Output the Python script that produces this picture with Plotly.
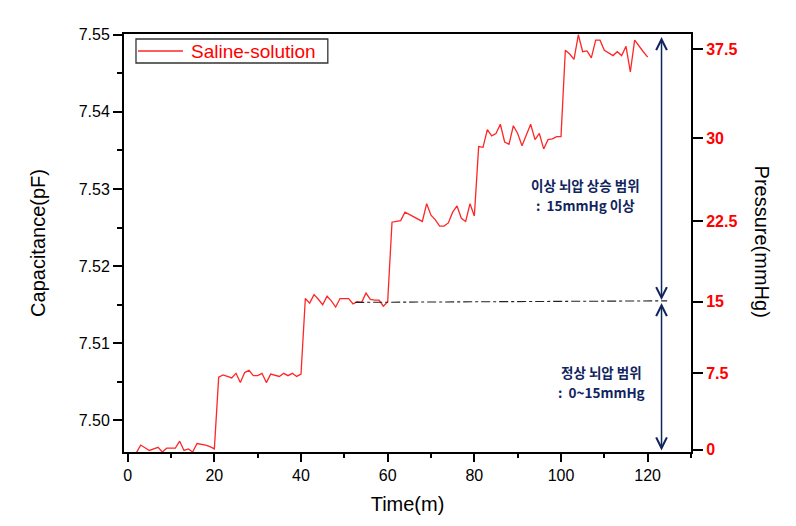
import plotly.graph_objects as go

# ---- data ----
time_min = list(range(1, 121))

cap_0mmHg = [7.4957, 7.4958, 7.4968, 7.4964, 7.4961, 7.4963, 7.4965, 7.4959, 7.4964, 7.4964,
             7.4964, 7.4973, 7.4961, 7.4963, 7.4959, 7.4970, 7.4969, 7.4968, 7.4966, 7.4963]
cap_7_5mmHg = [7.5056, 7.5059, 7.5057, 7.5055, 7.5061, 7.5049, 7.5062, 7.5065, 7.5058, 7.5058,
               7.5061, 7.5049, 7.5060, 7.5058, 7.5057, 7.5061, 7.5058, 7.5061, 7.5057, 7.5060]
cap_15mmHg = [7.5158, 7.5152, 7.5163, 7.5157, 7.5150, 7.5161, 7.5155, 7.5147, 7.5158, 7.5158,
              7.5158, 7.5151, 7.5154, 7.5153, 7.5165, 7.5157, 7.5156, 7.5156, 7.5148, 7.5154]
cap_22_5mmHg = [7.5257, 7.5258, 7.5259, 7.5270, 7.5267, 7.5264, 7.5261, 7.5258, 7.5281, 7.5266,
                7.5260, 7.5252, 7.5252, 7.5256, 7.5270, 7.5278, 7.5262, 7.5258, 7.5281, 7.5265]
cap_30mmHg = [7.5355, 7.5354, 7.5377, 7.5369, 7.5372, 7.5384, 7.5361, 7.5358, 7.5382, 7.5372,
              7.5356, 7.5370, 7.5384, 7.5364, 7.5372, 7.5352, 7.5364, 7.5365, 7.5368, 7.5368]
cap_37_5mmHg = [7.5480, 7.5475, 7.5468, 7.5500, 7.5478, 7.5479, 7.5470, 7.5493, 7.5493, 7.5480,
                7.5476, 7.5473, 7.5478, 7.5473, 7.5485, 7.5452, 7.5493, 7.5485, 7.5478, 7.5471]

capacitance = cap_0mmHg + cap_7_5mmHg + cap_15mmHg + cap_22_5mmHg + cap_30mmHg + cap_37_5mmHg

pressure_labels = ["0", "7.5", "15", "22.5", "30", "37.5"]
pressure_tick_cap = [7.4962, 7.5061, 7.5154, 7.5258, 7.5366, 7.5481]

series_name = "Saline-solution"
threshold_cap = 7.5154   # 15 mmHg level
range_top_cap = 7.5497
range_bottom_cap = 7.4961
arrow_time = 123.2

y_range = [7.4959, 7.5501]
x_range = [-0.85, 130]

NAVY = "#10245e"
RED = "#ff2626"
FONT = "Liberation Sans, Arial, sans-serif"
KFONT = "Noto Sans CJK KR, sans-serif"

OFF = 8  # page body margin
W, H = 788, 518
ML, MT = 116, 26
PW, PH = 567.5, 418
MR = W - ML - PW
MB = H - MT - PH


def px_to_paper(px, py):
    """window pixel -> paper coords"""
    return (px - OFF - ML) / PW, (MT + PH - (py - OFF)) / PH


def py_to_cap(py):
    return y_range[1] - (py - (MT + OFF)) / PH * (y_range[1] - y_range[0])


fig = go.Figure()
fig.add_trace(go.Scatter(
    x=time_min, y=capacitance, mode="lines", name=series_name,
    line=dict(color=RED, width=1.3), showlegend=False))
fig.add_trace(go.Scatter(
    x=time_min, y=capacitance, mode="lines", yaxis="y2", showlegend=False,
    hoverinfo="skip", opacity=0, line=dict(width=0.1)))

fig.update_layout(
    width=W, height=H,
    margin=dict(l=ML, r=MR, t=MT, b=MB, autoexpand=False),
    paper_bgcolor="white", plot_bgcolor="white",
    showlegend=False,
    xaxis=dict(range=x_range, tick0=0, dtick=20, ticks="outside", ticklen=8,
               tickwidth=1.5, tickcolor="black", showline=True, linewidth=2,
               linecolor="black", mirror=True, showgrid=False, zeroline=False,
               automargin=False,
               minor=dict(dtick=10, ticks="outside", ticklen=4, tickwidth=1.5,
                          tickcolor="black", showgrid=False),
               tickfont=dict(family=FONT, size=16, color="black"),
               title=dict(text="Time(m)", font=dict(family=FONT, size=20, color="black"),
                          standoff=14)),
    yaxis=dict(range=y_range, tick0=7.5, dtick=0.01, tickformat=".2f",
               ticks="outside", ticklen=9, tickwidth=1.5, tickcolor="black",
               showline=True, linewidth=2, linecolor="black", showgrid=False,
               zeroline=False, automargin=False,
               minor=dict(dtick=0.005, ticks="outside", ticklen=5, tickwidth=1.5,
                          tickcolor="black", showgrid=False),
               tickfont=dict(family=FONT, size=16, color="black"),
               title=dict(text="Capacitance(pF)", font=dict(family=FONT, size=20, color="black"),
                          standoff=28)),
    yaxis2=dict(range=y_range, overlaying="y", side="right",
                tickmode="array", tickvals=pressure_tick_cap, ticktext=pressure_labels,
                ticks="outside", ticklen=10, tickwidth=1.5, tickcolor="black",
                showline=True, linewidth=2, linecolor="black", showgrid=False,
                zeroline=False, automargin=False,
                tickfont=dict(family=FONT, size=16, color="#ff0000", weight="bold")),
)

# legend box (drawn as a key in paper coordinates)
bx0, by0 = px_to_paper(136, 63)
bx1, by1 = px_to_paper(328, 39)
fig.add_shape(type="rect", xref="paper", yref="paper", x0=bx0, y0=by0, x1=bx1, y1=by1,
              line=dict(color="#333333", width=1.3), fillcolor="white", layer="above")
lx0, ly = px_to_paper(138, 51)
lx1, _ = px_to_paper(183, 51)
fig.add_shape(type="line", xref="paper", yref="paper", x0=lx0, y0=ly, x1=lx1, y1=ly,
              line=dict(color=RED, width=1.3), layer="above")
tx, ty = px_to_paper(189, 51)
fig.add_annotation(x=tx, y=ty, xref="paper", yref="paper", showarrow=False,
                   xanchor="left", yanchor="middle", text=series_name,
                   font=dict(family=FONT, size=19, color="#ff0000"))

# 15 mmHg threshold line
fig.add_shape(type="line", xref="x", yref="y", x0=52.5, y0=threshold_cap - 0.0001,
              x1=124.5, y1=threshold_cap + 0.0001,
              line=dict(color="#222222", width=1.1, dash="dashdot"))

for y_end in (range_top_cap, range_bottom_cap):
    fig.add_annotation(x=arrow_time, y=y_end, ax=arrow_time, ay=threshold_cap,
                       xref="x", yref="y", axref="x", ayref="y", text="",
                       showarrow=True, arrowhead=5, startarrowhead=5,
                       arrowside="end+start", arrowsize=1.4, startarrowsize=1.4,
                       arrowwidth=1.5, arrowcolor=NAVY, standoff=0, startstandoff=0)

range_texts = [
    (105.7, 185.0, "<b>이상 뇌압 상승 범위</b>"),
    (105.7, 204.8, "<b>:\u00a0\u00a015mmHg 이상</b>"),
    (109.4, 372.0, "<b>정상 뇌압 범위</b>"),
    (109.4, 391.8, "<b>:\u00a0\u00a00~15mmHg</b>"),
]
for x_t, py_t, txt in range_texts:
    fig.add_annotation(x=x_t, y=py_to_cap(py_t), xref="x", yref="y", showarrow=False,
                       text=txt, align="center", yanchor="middle", borderpad=0,
                       font=dict(family=KFONT, size=13.5, color=NAVY))

px_t, py_t = px_to_paper(763, 242)
fig.add_annotation(x=px_t, y=py_t, xref="paper", yref="paper", showarrow=False,
                   xanchor="center", yanchor="middle",
                   text="Pressure(mmHg)", textangle=90,
                   font=dict(family=FONT, size=20, color="black"))

fig.write_html("out.html")
